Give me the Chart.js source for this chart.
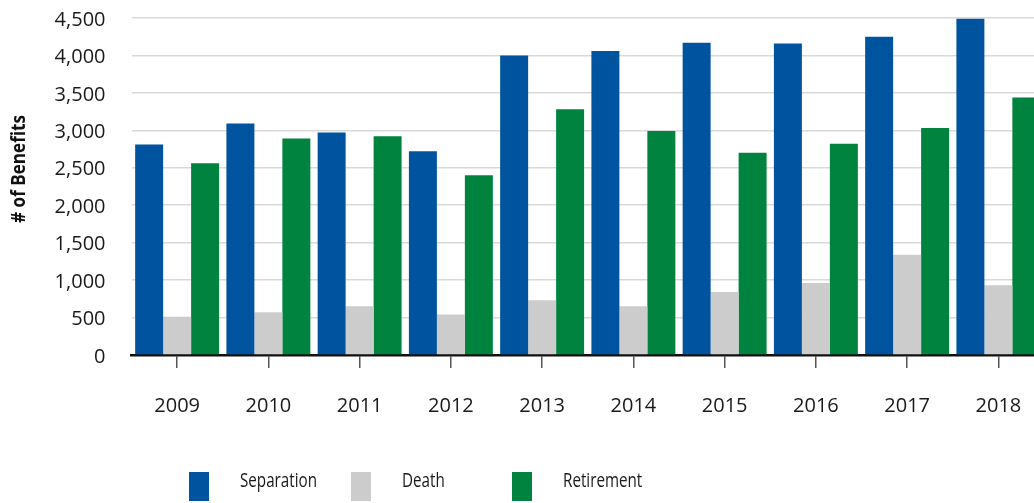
<!DOCTYPE html>
<html><head><meta charset="utf-8">
<script src="https://cdn.jsdelivr.net/npm/chart.js@4"></script>
<style>html,body{margin:0;padding:0;background:#fff;overflow:hidden;}#wrap{width:1060px;height:503px;position:relative;}</style>
</head><body><div id="wrap"><canvas id="c"></canvas></div>
<script>
const years = ['2009','2010','2011','2012','2013','2014','2015','2016','2017','2018'];
const separation = [2810, 3090, 2970, 2720, 4000, 4060, 4170, 4160, 4250, 4490];
const death = [510, 570, 650, 540, 730, 650, 840, 960, 1340, 930];
const retirement = [2560, 2890, 2920, 2400, 3280, 2990, 2700, 2820, 3030, 3440];
const seriesNames = ['Separation', 'Death', 'Retirement'];
const seriesColors = ['#00549F', '#CCCCCC', '#00833F'];
const yMin = 0, yMax = 4500, yStep = 500;
const yTitle = '# of Benefits';

const decorPlugin = {
  id: 'decor',
  afterDraw(chart) {
    const ctx = chart.ctx;
    const xs = [189, 351, 512];
    ctx.save();
    chart.data.datasets.forEach((ds, i) => {
      ctx.fillStyle = ds.backgroundColor;
      ctx.fillRect(xs[i], 472, 20, 29);
      ctx.save();
      ctx.translate(xs[i] + 51, 487);
      ctx.scale(0.76, 1);
      ctx.fillStyle = '#1a1a1a';
      ctx.font = '20px "Open Sans", sans-serif';
      ctx.textBaseline = 'alphabetic';
      ctx.textAlign = 'left';
      ctx.fillText(ds.label, 0, 0);
      ctx.restore();
    });
    // y axis title
    ctx.save();
    ctx.translate(20, 169);
    ctx.rotate(-Math.PI / 2);
    ctx.scale(0.9, 1);
    ctx.fillStyle = '#111';
    ctx.font = 'bold 19px "Open Sans", sans-serif';
    ctx.textAlign = 'center';
    ctx.textBaseline = 'middle';
    ctx.fillText(yTitle, 0, 0);
    ctx.restore();
    ctx.restore();
  }
};

new Chart(document.getElementById('c'), {
  type: 'bar',
  data: {
    labels: years,
    datasets: [
      { label: seriesNames[0], data: separation, backgroundColor: seriesColors[0] },
      { label: seriesNames[1], data: death, backgroundColor: seriesColors[1] },
      { label: seriesNames[2], data: retirement, backgroundColor: seriesColors[2] }
    ]
  },
  options: {
    responsive: true,
    maintainAspectRatio: false,
    animation: false,
    datasets: { bar: { barPercentage: 1, categoryPercentage: 0.92 } },
    layout: { padding: { left: 8, top: 18, right: 16, bottom: 0 } },
    plugins: { legend: { display: false }, tooltip: { enabled: false } },
    scales: {
      x: {
        z: 1,
        grid: { display: true, drawOnChartArea: false, drawTicks: true, tickLength: 13, tickColor: '#555', offset: false, lineWidth: 1.5 },
        border: { display: true, color: '#111', width: 2.5 },
        ticks: { color: '#1a1a1a', font: { family: 'Open Sans', size: 20 }, padding: 26, maxRotation: 0, autoSkip: false },
        afterFit(scale) { scale.height = 148; }
      },
      y: {
        min: yMin, max: yMax,
        grid: { color: '#d9d9d9', lineWidth: 1.5, drawTicks: false },
        border: { display: false },
        ticks: { stepSize: yStep, color: '#1a1a1a', font: { family: 'Open Sans', size: 20 }, padding: 26, labelOffset: 2,
          callback: v => v.toLocaleString('en-US') },
        title: { display: false },
        afterFit(scale) { scale.width = 123.5; scale.paddingTop = 0; scale.paddingBottom = 0; }
      }
    }
  },
  plugins: [decorPlugin]
});
</script></body></html>
